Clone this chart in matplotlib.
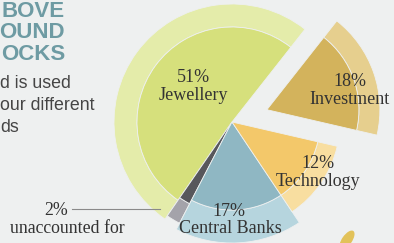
import numpy as np
import matplotlib.pyplot as plt
from matplotlib.patches import Wedge, Ellipse

# data
labels = ['Investment', 'Jewellery', 'unaccounted for', 'Central Banks', 'Technology']
shares = [18, 51, 2, 17, 12]
pct_text = ['18%', '51%', '2%', '17%', '12%']

# styles
inner_colors = ['#d3b35c', '#d6e07c', '#57575c', '#8fb7c3', '#f3c86a']
outer_colors = ['#e6cf8e', '#e4ecaa', '#a4a3aa', '#b6d5de', '#f8dea0']
inner_r = [92, 95, 92, 88, 88]
outer_r = [113, 118, 114, 121, 108]
explode = [37, 0, 0, 0, 0]
pct_pos = [(350, 161), (193, 166), (56, 33), (229, 32), (318, 79)]
name_pos = [(350, 143), (193, 148), (67, 15), (230, 15), (318, 61)]
bg = '#eef0f0'

center = np.array([232.0, 121.0])
start = -13.0

fig = plt.figure(figsize=(3.94, 2.43), dpi=100, facecolor=bg)
ax = fig.add_axes([0, 0, 1, 1])
ax.set_xlim(0, 394)
ax.set_ylim(0, 243)
ax.set_aspect('equal')
ax.axis('off')

theta = start
for i, s in enumerate(shares):
    span = s / sum(shares) * 360
    mid = np.radians(theta + span / 2)
    c = center + explode[i] * np.array([np.cos(mid), np.sin(mid)])
    ax.add_patch(Wedge(c, outer_r[i], theta, theta + span,
                       width=outer_r[i] - inner_r[i], facecolor=outer_colors[i],
                       edgecolor=bg, linewidth=0.6))
    ax.add_patch(Wedge(c, inner_r[i], theta, theta + span,
                       facecolor=inner_colors[i], edgecolor=bg, linewidth=0.6))
    theta += span

serif = 'Liberation Serif'
for i in range(len(labels)):
    fs = 13 if i != 2 else 12.8
    ax.text(*pct_pos[i], pct_text[i], ha='center', va='center', fontsize=fs,
            family=serif, color='#333333')
    ax.text(*name_pos[i], labels[i], ha='center', va='center', fontsize=fs,
            family=serif, color='#333333')

# leader line for the small slice
ax.plot([72, 160], [34, 34], color='#8a8a8a', linewidth=0.8)

# small gold leaf cut off at the bottom edge
ax.add_patch(Ellipse((347, 3), 10, 22, angle=-35, facecolor='#e2c25a', edgecolor='none'))

# heading and intro (cropped at the left edge)
for y, t in zip([231, 210, 189], ['BOVE', 'OUND', 'OCKS']):
    ax.text(65, y, t, ha='right', va='center', fontsize=16, fontweight='bold',
            family='Liberation Sans', color='#6e9ba3')
for y, t in zip([159, 137, 115], ['d is used', 'our different', 'ds']):
    ax.text(0, y, t, ha='left', va='center', fontsize=12.8,
            family='Liberation Sans', color='#454545')

fig.savefig('out.png', dpi=100, facecolor=bg)
